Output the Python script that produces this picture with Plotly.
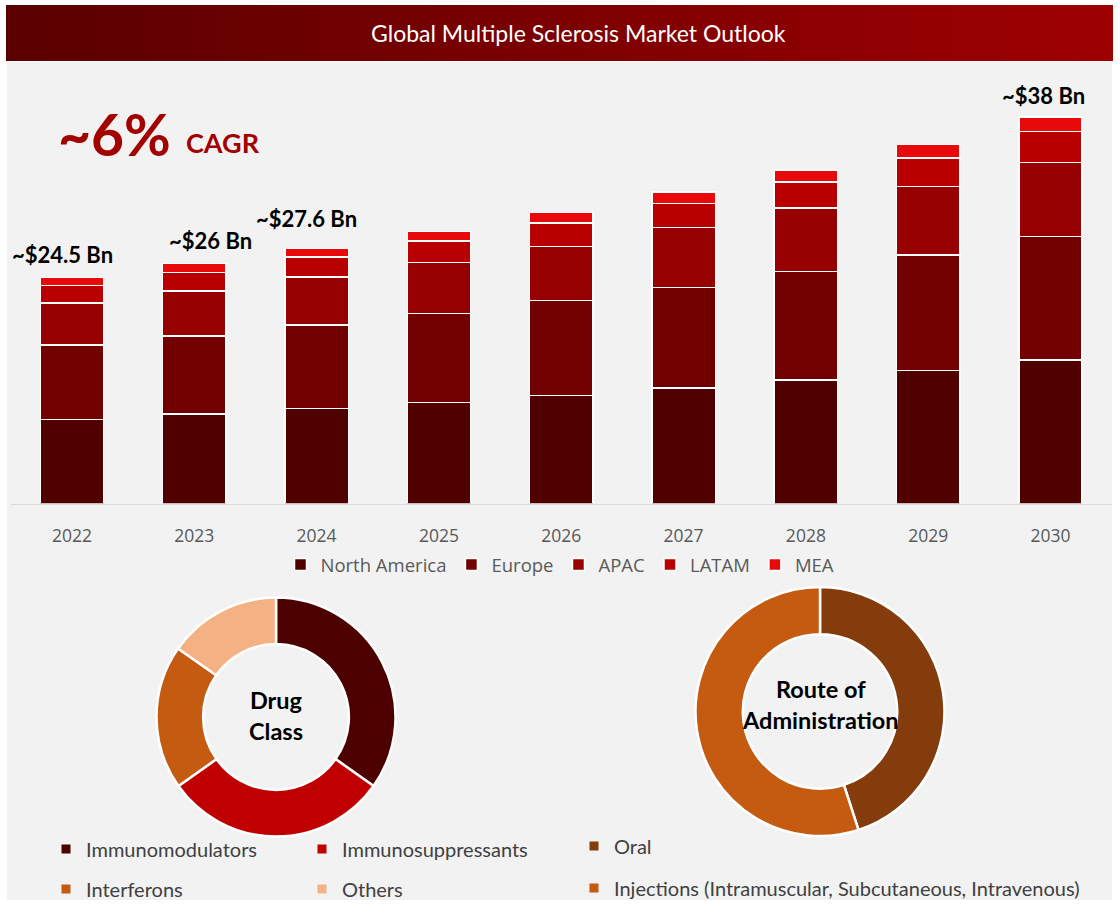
import plotly.graph_objects as go

W, H = 1120, 913

# ---------------- data ----------------
years = ["2022", "2023", "2024", "2025", "2026", "2027", "2028", "2029", "2030"]
regions = ["North America", "Europe", "APAC", "LATAM", "MEA"]
north_america = [9.12, 9.70, 10.27, 10.96, 11.72, 12.51, 13.38, 14.39, 15.55]
europe = [8.05, 8.45, 9.07, 9.64, 10.25, 10.91, 11.78, 12.54, 13.36]
apac = [4.58, 4.88, 5.23, 5.53, 5.89, 6.46, 6.86, 7.44, 8.06]
latam = [1.89, 1.98, 2.13, 2.31, 2.56, 2.64, 2.82, 3.07, 3.36]
mea = [0.87, 1.02, 0.94, 1.05, 1.13, 1.22, 1.30, 1.44, 1.55]
region_colors = ["#510000", "#720000", "#960000", "#b80000", "#e80a0a"]

total_label_years = ["2022", "2023", "2024", "2030"]
total_label_texts = ["~$24.5 Bn", "~$26 Bn", "~$27.6 Bn", "~$38 Bn"]
total_label_xshift = [-9, 16, -10, -7]
total_label_yshift = [7, 7, 14, 6]

drug_classes = ["Immunomodulators", "Immunosuppressants", "Interferons", "Others"]
drug_shares = [34.8, 30.4, 19.5, 15.3]
drug_colors = ["#4d0000", "#c00000", "#c55a11", "#f4b183"]

routes = ["Oral", "Injections (Intramuscular, Subcutaneous, Intravenous)"]
route_shares = [45, 55]
route_colors = ["#843c0c", "#c55a11"]

title_text = "Global Multiple Sclerosis Market Outlook"
cagr_value = "~6%"
cagr_word = "CAGR"

# ---------------- helpers ----------------
def fx(px):
    return px / W


def fy(py):
    return 1 - py / H


CAL = "Lato, 'Open Sans', sans-serif"
SEG = "'Open Sans', 'Noto Sans', sans-serif"

series = [north_america, europe, apac, latam, mea]

fig = go.Figure()

for name, vals, col in zip(regions, series, region_colors):
    fig.add_trace(go.Bar(
        x=years, y=vals, name=name,
        marker=dict(color=col, line=dict(color="white", width=1.5)),
        legend="legend", hoverinfo="x+y+name",
    ))

# donut charts
fig.add_trace(go.Pie(
    labels=drug_classes, values=drug_shares, hole=0.61, sort=False,
    direction="clockwise", rotation=0, textinfo="none",
    marker=dict(colors=drug_colors, line=dict(color="white", width=2.5)),
    domain=dict(x=[fx(156.5), fx(395.5)], y=[fy(836.5), fy(597.5)]),
    showlegend=False,
))
fig.add_trace(go.Pie(
    labels=routes, values=route_shares, hole=0.62, sort=False,
    direction="clockwise", rotation=0, textinfo="none",
    marker=dict(colors=route_colors, line=dict(color="white", width=2.5)),
    domain=dict(x=[fx(695.5), fx(944.5)], y=[fy(836), fy(587)]),
    showlegend=False,
))

# legend proxies for donut legends (on a separate hidden axis pair)
drug_legend_ids = ["legend2", "legend2", "legend3", "legend3"]
for name, col, lg in zip(drug_classes, drug_colors, drug_legend_ids):
    fig.add_trace(go.Scatter(
        x=[None], y=[None], mode="markers", name=name, legend=lg,
        xaxis="x2", yaxis="y2",
        marker=dict(symbol="square", size=9, color=col), hoverinfo="skip",
    ))
route_legend_ids = ["legend4", "legend5"]
for name, col, lg in zip(routes, route_colors, route_legend_ids):
    fig.add_trace(go.Scatter(
        x=[None], y=[None], mode="markers", name=name, legend=lg,
        xaxis="x2", yaxis="y2",
        marker=dict(symbol="square", size=9, color=col), hoverinfo="skip",
    ))

totals = [sum(v) for v in zip(*series)]
total_by_year = dict(zip(years, totals))

px_per_unit = 226.2 / totals[0]
y_top = (503.5 - 62) / px_per_unit

# ---------------- shapes ----------------
shapes = []
shapes.append(dict(type="rect", xref="paper", yref="paper", layer="below",
                   x0=fx(7), x1=fx(1112), y0=fy(900), y1=fy(62),
                   fillcolor="#f2f2f2", line=dict(width=0)))
n = 60
x0p, x1p = 6, 1113
c0, c1 = (0x5a, 0x00, 0x00), (0x9e, 0x00, 0x02)
for i in range(n):
    t = i / (n - 1)
    col = "rgb(%d,%d,%d)" % tuple(round(a + (b - a) * t) for a, b in zip(c0, c1))
    xa = x0p + (x1p - x0p) * i / n
    xb = x0p + (x1p - x0p) * (i + 1) / n + 0.8
    shapes.append(dict(type="rect", xref="paper", yref="paper", layer="below",
                       x0=fx(xa), x1=fx(min(xb, x1p)), y0=fy(61), y1=fy(5),
                       fillcolor=col, line=dict(width=0)))

# ---------------- annotations ----------------
annotations = [
    dict(text=title_text, x=fx(578), y=fy(33), xref="paper", yref="paper",
         showarrow=False, xanchor="center", yanchor="middle",
         font=dict(family=CAL, size=23, color="white")),
    dict(text="<b>%s</b>" % cagr_value, x=fx(56), y=fy(134), xref="paper", yref="paper",
         showarrow=False, xanchor="left", yanchor="middle",
         font=dict(family=CAL, size=57, color="#a30000")),
    dict(text="<b>%s</b>" % cagr_word, x=fx(184), y=fy(143), xref="paper", yref="paper",
         showarrow=False, xanchor="left", yanchor="middle",
         font=dict(family=CAL, size=27, color="#a30000")),
    dict(text="<b>Drug<br>Class</b>", x=fx(276), y=fy(715), xref="paper", yref="paper",
         showarrow=False, xanchor="center", yanchor="middle",
         font=dict(family=CAL, size=23.5, color="black")),
    dict(text="<b>Route of<br>Administration</b>", x=fx(820), y=fy(704), xref="paper", yref="paper",
         showarrow=False, xanchor="center", yanchor="middle",
         font=dict(family=CAL, size=23.5, color="black")),
]
for yr, txt, xs, ys in zip(total_label_years, total_label_texts, total_label_xshift, total_label_yshift):
    annotations.append(dict(
        text="<b>%s</b>" % txt, x=years.index(yr), y=total_by_year[yr], xref="x", yref="y",
        showarrow=False, xanchor="center", yanchor="bottom", xshift=xs, yshift=ys,
        font=dict(family=CAL, size=22, color="black")))

leg_common = dict(orientation="h", bgcolor="rgba(0,0,0,0)", borderwidth=0,
                  xref="paper", yref="paper")

fig.update_layout(
    width=W, height=H,
    margin=dict(l=0, r=0, t=0, b=0, autoexpand=False),
    paper_bgcolor="white", plot_bgcolor="rgba(0,0,0,0)",
    barmode="stack", bargap=0.482,
    shapes=shapes, annotations=annotations,
    xaxis=dict(domain=[fx(10.8), fx(1111.7)], type="category",
               categoryorder="array", categoryarray=years,
               range=[-0.5, len(years) - 0.5],
               showgrid=False, zeroline=False, showline=True,
               linecolor="#d9d9d9", linewidth=1.2, automargin=False,
               ticks="outside", ticklen=16, tickcolor="rgba(0,0,0,0)",
               tickfont=dict(family=SEG, size=17.5, color="#595959"),
               fixedrange=True),
    yaxis=dict(domain=[fy(503.5), fy(62)], range=[0, y_top],
               visible=False, fixedrange=True),
    xaxis2=dict(domain=[0, 0.01], anchor="y2", visible=False, range=[0, 1]),
    yaxis2=dict(domain=[0, 0.01], anchor="x2", visible=False, range=[0, 1]),
    legend=dict(**leg_common, x=0.5, xanchor="center", y=fy(565), yanchor="middle",
                font=dict(family=SEG, size=18.5, color="#595959"), traceorder="normal"),
    legend2=dict(**leg_common, x=fx(46), xanchor="left", y=fy(849), yanchor="middle",
                 entrywidth=211, font=dict(family=CAL, size=20, color="#404040")),
    legend3=dict(**leg_common, x=fx(46), xanchor="left", y=fy(889), yanchor="middle",
                 entrywidth=211, font=dict(family=CAL, size=20, color="#404040")),
    legend4=dict(**leg_common, x=fx(574), xanchor="left", y=fy(846), yanchor="middle",
                 font=dict(family=CAL, size=20, color="#404040")),
    legend5=dict(**leg_common, x=fx(574), xanchor="left", y=fy(888), yanchor="middle",
                 font=dict(family=CAL, size=20, color="#404040")),
    showlegend=True,
)

fig.write_html("out.html", config={"displayModeBar": False},
               post_script="document.body.style.margin='0';")
